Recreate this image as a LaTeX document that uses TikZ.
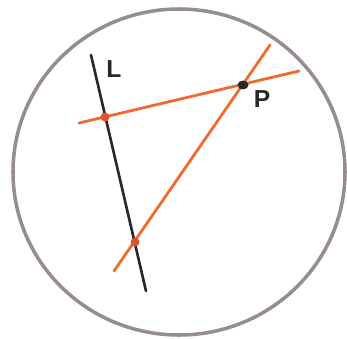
\documentclass[tikz,border=0pt]{standalone}
\usepackage{fontspec}
\setsansfont{Liberation Sans}
\usetikzlibrary{shapes.geometric, positioning, calc}
\definecolor{sketchGray}{RGB}{150, 140, 145}
\definecolor{sketchOrange}{RGB}{242, 106, 47}
\definecolor{sketchRed}{RGB}{224, 80, 50}
\definecolor{sketchInk}{RGB}{40, 40, 40}

\begin{document}
\begin{tikzpicture}[
    x=0.02cm, y=-0.02cm,
    rim/.style={draw=sketchGray, line width=2pt},
    orangeline/.style={draw=sketchOrange, line width=1.6pt, line cap=round},
    inkline/.style={draw=sketchInk, line width=1.5pt, line cap=round},
    crossing/.style={circle, fill=sketchRed, inner sep=0pt, minimum size=0.18cm},
    pdot/.style={ellipse, fill=sketchInk, inner sep=0pt, minimum width=0.22cm, minimum height=0.18cm},
    lbl/.style={font=\sffamily\bfseries\fontsize{14}{14}\selectfont, text=sketchInk, inner sep=0pt}
  ]
    \useasboundingbox (0,0) rectangle (347,338);
    \draw[rim] (179,172) ellipse [x radius=166, y radius=163];

    % line L
    \coordinate (Ltop) at (91,55);
    \coordinate (Lbot) at (146,291);
    % orange lines through P
    \coordinate (h1) at (79,123);
    \coordinate (h2) at (299,71);
    \coordinate (d1) at (270,45);
    \coordinate (d2) at (114,271);

    \draw[orangeline] (h1) -- (h2);
    \draw[orangeline] (d1) -- (d2);
    \draw[inkline] (Ltop) -- (Lbot);

    \node[crossing] (x1) at (105,117) {};
    \node[crossing] (x2) at (135,242) {};
    \node[pdot] (P) at (243,85) {};

    \node[lbl] (labL) at (114,69) {L};
    \node[lbl] (labP) at (262,99) {P};
  \end{tikzpicture}
\end{document}
